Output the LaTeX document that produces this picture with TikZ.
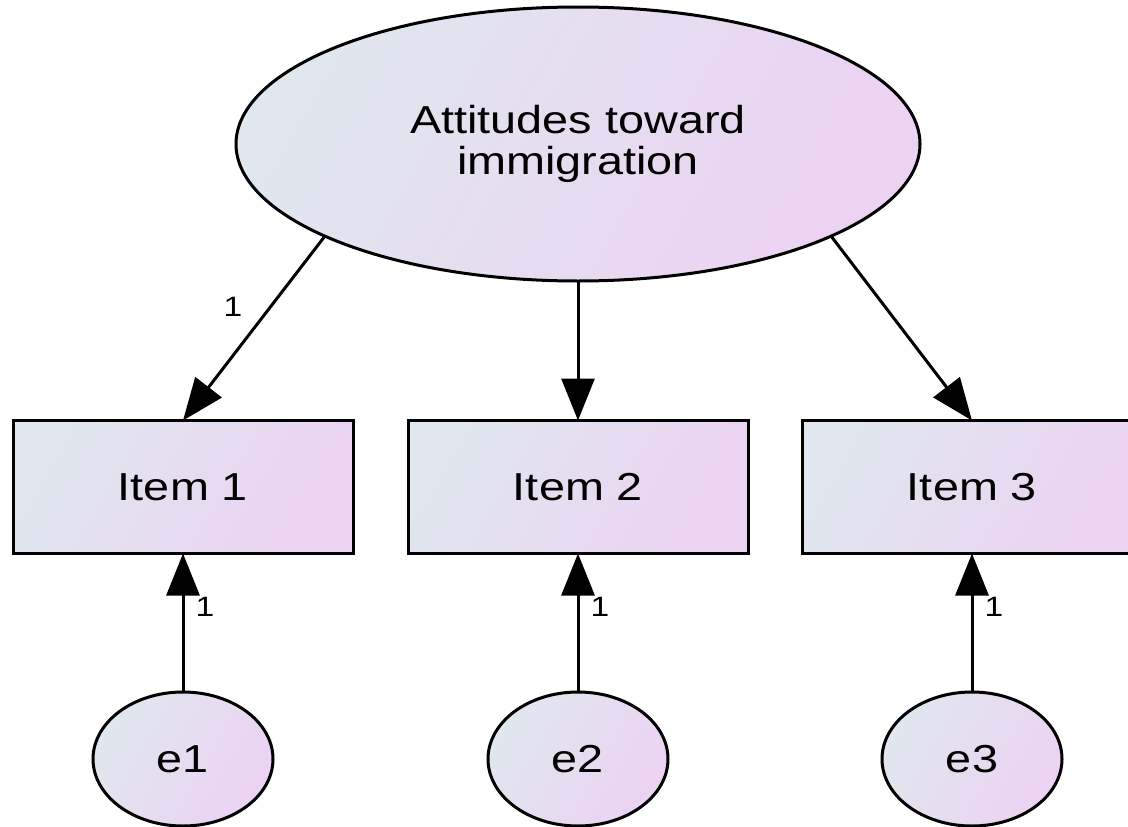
\documentclass[tikz,border=0pt]{standalone}
\usepackage{fontspec}
\setmainfont{Liberation Sans}[FakeStretch=1.2]
\usetikzlibrary{arrows.meta,shapes.geometric}
\definecolor{lblue}{RGB}{224,231,238}
\definecolor{lpurp}{RGB}{236,210,243}
\begin{document}
\begin{tikzpicture}[x=1pt,y=-1pt,
  grad/.style={left color=lblue,right color=lpurp,shading angle=60},
  bigfont/.style={font=\fontsize{39}{41}\selectfont},
  smallfont/.style={font=\fontsize{28}{30}\selectfont},
  latentvar/.style={ellipse,draw,line width=3pt,grad,inner sep=0pt,outer sep=0pt,
     minimum width=684pt,minimum height=274pt,align=center,bigfont},
  obsvar/.style={rectangle,draw,line width=3pt,grad,inner sep=0pt,outer sep=0pt,
     minimum width=340pt,minimum height=133pt,bigfont},
  errvar/.style={ellipse,draw,line width=3pt,grad,inner sep=0pt,outer sep=0pt,
     minimum width=180pt,minimum height=134pt,bigfont},
  arr/.style={line width=3pt,-{Triangle[length=42pt,width=33pt]}},
  lbl/.style={smallfont,inner sep=0pt}]
\useasboundingbox (0,0) rectangle (1128,827);
\node[latentvar] (att) at (578,144) {Attitudes toward\\immigration};
\node[obsvar] (i1) at (183,487) {Item 1};
\node[obsvar] (i2) at (578,487) {Item 2};
\node[obsvar] (i3) at (972,487) {Item 3};
\node[errvar] (e1) at (183,759) {e1};
\node[errvar] (e2) at (578,759) {e2};
\node[errvar] (e3) at (972,759) {e3};
\draw[arr] (att.200) -- (i1.north);
\draw[arr] (att.south) -- (i2.north);
\draw[arr] (att.340) -- (i3.north);
\draw[arr] (e1.north) -- (i1.south);
\draw[arr] (e2.north) -- (i2.south);
\draw[arr] (e3.north) -- (i3.south);
\node[lbl] (l1) at (233,307) {1};
\node[lbl] (le1) at (205,607) {1};
\node[lbl] (le2) at (600,607) {1};
\node[lbl] (le3) at (994,607) {1};
\end{tikzpicture}
\end{document}
